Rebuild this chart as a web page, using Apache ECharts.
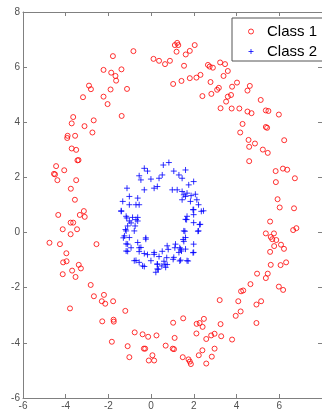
<!DOCTYPE html>
<html>
<head>
<meta charset="utf-8">
<script src="https://cdn.jsdelivr.net/npm/echarts@6/dist/echarts.min.js"></script>
<style>
  html, body { margin: 0; padding: 0; background: #fff; }
  #chart { width: 322px; height: 411px; }
</style>
</head>
<body>
<div id="chart"></div>
<script>
// 两类样本（外圈红圈，内圈蓝十字），从图上读出的坐标
const seriesNames = ["Class 1", "Class 2"];

const class1 = [
  [-1.79, 6.40], [-0.83, 6.58], [0.11, 6.30], [0.37, 6.23], [-2.23, 5.90], [-1.87, 5.80],
  [-1.67, 5.68], [-1.39, 5.92], [-1.64, 5.51], [-2.91, 5.33], [-2.82, 5.20], [-1.90, 5.19],
  [-1.13, 5.21], [-3.19, 4.91], [-2.23, 4.93], [-2.04, 4.66], [-1.38, 4.23], [-3.65, 4.19],
  [-3.72, 3.96], [-2.69, 4.07], [-3.12, 3.86], [-2.75, 3.63], [-3.91, 3.51], [-3.93, 3.43],
  [-3.56, 3.51], [-3.72, 3.05], [-3.51, 3.00], [-3.45, 2.62], [-3.40, 2.63], [-4.45, 2.41],
  [-4.55, 2.13], [-4.50, 2.11], [-4.07, 2.26], [-4.39, 1.90], [-3.51, 1.90], [-3.76, 1.59],
  [-3.57, 1.19],
  [1.22, 6.88], [1.27, 6.80], [1.11, 6.80], [2.04, 6.80], [1.19, 6.56], [1.81, 6.59],
  [1.62, 6.46], [0.65, 6.11], [0.88, 6.23], [1.54, 6.05], [2.66, 6.08], [2.74, 6.02],
  [2.89, 5.98], [3.23, 6.17], [3.46, 6.11], [3.59, 5.86], [3.39, 5.68], [2.31, 5.72],
  [2.12, 5.62], [1.81, 5.60], [1.42, 5.50], [1.03, 5.39], [2.78, 5.46], [4.02, 5.44],
  [3.79, 5.29], [4.62, 5.32], [3.17, 5.25], [3.09, 5.18], [4.51, 5.15], [2.82, 5.03],
  [2.40, 4.95], [3.74, 4.99], [3.59, 4.93], [5.13, 4.81], [3.51, 4.75], [3.25, 4.51],
  [3.77, 4.50], [4.13, 4.50], [4.51, 4.39], [4.70, 4.33], [5.37, 4.43], [5.49, 4.41],
  [5.98, 4.28], [4.28, 3.94], [5.37, 3.83], [5.43, 3.80], [4.17, 3.63], [4.56, 3.36],
  [4.86, 3.23], [6.23, 3.35], [4.59, 3.11], [5.23, 3.01], [5.46, 2.89], [4.59, 2.59],
  [5.83, 2.23], [6.17, 2.32], [6.37, 2.28], [6.73, 1.97], [5.84, 1.83], [5.92, 1.21],
  [-4.35, 0.64], [-3.15, 0.78], [-3.34, 0.64], [-3.11, 0.57], [-3.77, 0.36], [-3.65, 0.36],
  [-4.14, 0.12], [-3.47, 0.12], [-3.77, -0.06], [-4.76, -0.37], [-4.27, -0.42], [-2.56, -0.42],
  [-3.97, -0.75], [-4.12, -1.08], [-3.96, -1.04], [-3.39, -1.17], [-3.29, -1.30], [-3.70, -1.38],
  [-4.14, -1.51], [-3.54, -1.61], [-2.83, -1.90], [-2.68, -2.31], [-2.21, -2.26], [-2.31, -2.49],
  [-2.15, -2.58], [-1.78, -2.49], [-3.80, -2.75], [-1.21, -2.84], [-2.29, -3.22], [-1.76, -3.16],
  [-1.75, -3.23], [-0.77, -3.62], [-0.40, -3.69], [-0.14, -3.78], [0.25, -3.73], [-1.84, -3.96],
  [-1.10, -4.12], [-0.34, -4.21], [-0.28, -4.21], [-1.02, -4.52], [0.06, -4.45], [-0.11, -4.64],
  [0.14, -4.64],
  [6.02, 0.91], [6.69, 0.88], [5.57, 0.40], [5.37, -0.03], [5.75, -0.03], [5.60, -0.16],
  [5.67, -0.24], [5.86, -0.27], [5.76, -0.49], [6.08, -0.44], [6.22, -0.59], [5.57, -0.70],
  [6.65, 0.09], [6.80, 0.16], [5.60, -1.17], [6.06, -1.18], [6.32, -1.08], [4.96, -1.49],
  [5.46, -1.49], [5.37, -1.65], [4.65, -1.87], [4.31, -2.10], [4.21, -2.13], [5.98, -1.96],
  [6.18, -2.08], [3.21, -2.45], [4.08, -2.49], [5.15, -2.49], [4.93, -2.61], [4.19, -2.86],
  [3.96, -3.02], [4.93, -3.28], [1.03, -3.27], [1.50, -3.11], [2.13, -3.31], [2.27, -3.28],
  [2.47, -3.13], [2.41, -3.42], [3.25, -3.32], [2.12, -3.66], [2.97, -3.67], [2.81, -3.73],
  [2.58, -3.86], [3.28, -3.76], [3.79, -3.88], [1.10, -3.82], [0.68, -4.10], [1.01, -4.21],
  [1.07, -4.23], [2.40, -4.27], [2.97, -4.21], [2.23, -4.45], [2.84, -4.50], [1.48, -4.52],
  [1.75, -4.60], [1.81, -4.68], [1.86, -4.77], [2.58, -4.75]
];

const class2 = [
  [0.83, 2.54], [0.57, 2.45], [1.06, 2.23], [1.61, 2.27], [-0.32, 2.33], [-0.17, 2.23],
  [0.52, 2.09], [0.37, 1.97], [-0.01, 1.94], [-0.56, 2.06], [-0.48, 1.91], [1.30, 2.09],
  [1.45, 1.97], [1.99, 1.85], [1.76, 1.73], [-1.13, 1.61], [-0.32, 1.55], [0.14, 1.61],
  [0.29, 1.67], [0.99, 1.55], [1.22, 1.55], [1.45, 1.49], [1.53, 1.37], [1.61, 1.31],
  [1.68, 1.43], [1.87, 1.34], [2.07, 1.39], [2.14, 1.19], [1.84, 1.13], [1.45, 1.19],
  [-1.02, 1.31], [-0.63, 1.25], [-1.33, 1.13], [-1.02, 1.01], [-0.71, 1.01], [-0.56, 1.01],
  [-1.40, 0.79], [2.22, 1.01], [1.99, 0.83], [2.45, 0.79], [1.99, 0.65], [-1.17, 0.59],
  [-0.87, 0.55], [-0.63, 0.55], [1.68, 0.59], [-1.02, 0.42], [-0.63, 0.42], [-1.10, 0.24],
  [-0.75, 0.24], [-1.17, 0.06], [-0.79, 0.06], [-1.25, -0.12], [-1.02, -0.18], [-0.25, -0.24],
  [1.61, 0.48], [1.99, 0.36], [2.30, 0.30], [2.22, 0.06], [1.53, 0.06], [1.61, -0.18],
  [1.53, -0.32], [1.99, -0.42], [1.14, -0.42], [0.75, -0.48], [1.38, -0.60], [1.61, -0.60],
  [1.99, -0.72], [1.30, -0.72], [-1.10, -0.42], [-0.63, -0.36], [-0.48, -0.54], [-1.10, -0.68],
  [-0.56, -0.69], [-0.32, -0.76], [-0.17, -0.80], [0.14, -0.72], [0.52, -0.68], [0.37, -0.87],
  [1.06, -0.90], [1.38, -1.00], [1.68, -1.02], [-0.79, -1.02], [-0.56, -1.08], [-0.01, -1.02],
  [0.29, -1.14], [0.60, -1.04], [0.75, -1.16], [-0.32, -1.23], [0.29, -1.32], [0.68, -1.26],
  [0.22, -1.44],
  [-1.40, 0.77], [-1.14, 0.53], [-0.94, 0.35], [-0.71, 0.47], [-1.20, 0.11], [-1.30, -0.19],
  [-1.17, -0.41], [-0.94, -0.55], [-1.17, -0.67], [-0.71, -1.01], [-0.40, -1.21], [-0.25, -0.19],
  [-0.56, -0.55], [0.14, -0.79], [0.29, -1.15], [0.34, -1.33], [1.96, 0.83], [2.35, 0.77],
  [1.66, 0.47], [2.27, 0.29], [2.19, 0.05], [1.58, 0.05], [1.50, -0.25], [1.34, -0.55],
  [1.42, -0.67], [1.11, -0.55], [0.80, -0.61], [0.73, -0.91], [1.03, -0.97], [1.34, -1.03],
  [1.73, -1.03], [1.96, -0.73], [0.50, -1.21], [0.65, -1.15]
];

const xRange = [-6, 8];
const yRange = [-6, 8];
const tickStep = 2;

const chart = echarts.init(document.getElementById("chart"), null, { renderer: "canvas" });

const axisColor = "#808080";
const labelStyle = { color: "#505050", fontSize: 10, fontFamily: "Liberation Sans, Arial, sans-serif" };
const plusPath = "path://M0,5H10M5,0V10";
const class1Style = { color: "rgba(0,0,0,0)", borderColor: "#ff0000", borderWidth: 1 };
const class2Style = { color: "rgba(0,0,0,0)", borderColor: "#0000ff", borderWidth: 1 };

function frameAxis(pos, showLabel, extra) {
  return Object.assign({
    type: "value",
    position: pos,
    min: pos === "top" || pos === "bottom" ? xRange[0] : yRange[0],
    max: pos === "top" || pos === "bottom" ? xRange[1] : yRange[1],
    interval: tickStep,
    axisLine: { show: true, onZero: false, lineStyle: { color: axisColor, width: 1 } },
    axisTick: { show: true, inside: true, length: 4, lineStyle: { color: axisColor } },
    axisLabel: showLabel ? Object.assign({ margin: 3 }, labelStyle) : { show: false },
    splitLine: { show: false }
  }, extra || {});
}

var option = {
  animation: false,
  backgroundColor: "#fff",
  grid: { left: 23, right: -3, top: 12, bottom: 11, containLabel: false },
  xAxis: [
    frameAxis("bottom", true, { axisLabel: Object.assign({ margin: 3, showMaxLabel: false }, labelStyle) }),
    frameAxis("top", false)
  ],
  yAxis: [
    frameAxis("left", true),
    frameAxis("right", false)
  ],
  legend: {
    data: [
      { name: seriesNames[0], icon: "circle", itemStyle: class1Style },
      { name: seriesNames[1], icon: plusPath, itemStyle: class2Style }
    ],
    orient: "vertical",
    left: 232,
    top: 18,
    padding: [6, 20, 2, 16],
    itemWidth: 22,
    itemHeight: 5,
    itemGap: 5,
    selectedMode: false,
    backgroundColor: "#fff",
    borderColor: "#555",
    borderWidth: 1,
    textStyle: { color: "#000", fontSize: 15, fontFamily: "Liberation Sans, Arial, sans-serif" }
  },
  series: [
    {
      name: seriesNames[0],
      type: "scatter",
      data: class1,
      symbol: "circle",
      symbolSize: 5,
      itemStyle: class1Style
    },
    {
      name: seriesNames[1],
      type: "scatter",
      data: class2,
      symbol: plusPath,
      symbolSize: 6,
      itemStyle: class2Style
    }
  ]
};

chart.setOption(option);
</script>
</body>
</html>
